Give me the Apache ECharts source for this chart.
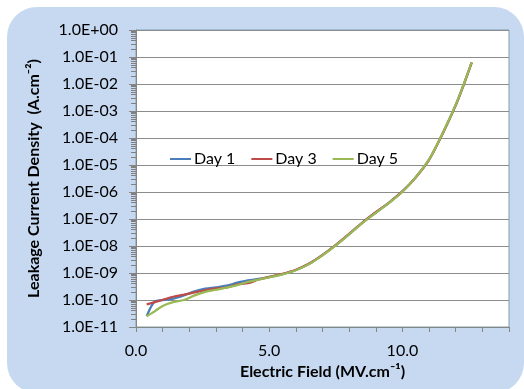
<!DOCTYPE html>
<html>
<head>
<meta charset="utf-8">
<script src="https://cdn.jsdelivr.net/npm/echarts@6/dist/echarts.min.js"></script>
<style>
  html, body { margin: 0; padding: 0; background: #fff; }
  #wrap { position: relative; width: 524px; height: 389px; overflow: hidden; }
  #panel { position: absolute; left: 7px; top: 7px; width: 517px; height: 386px;
           background: #c6d9f1; border-radius: 30px; }
  #chart { position: absolute; left: 0; top: 0; width: 524px; height: 389px; }
</style>
</head>
<body>
<div id="wrap">
  <div id="panel"></div>
  <div id="chart"></div>
</div>
<script>
// electric field (MV/cm)
const field = [0.4, 0.7, 1.0, 1.4, 1.8, 2.2, 2.6, 3.0, 3.4, 3.8, 4.2, 4.6, 5.0, 5.5, 6.0,
  6.5, 7.0, 7.5, 8.0, 8.5, 9.0, 9.5, 10.0, 10.5, 11.0, 11.5, 12.0, 12.3, 12.6];

// leakage current density (A/cm2)
const day1 = [2.51e-11, 8.7e-11, 9.8e-11, 1.12e-10, 1.48e-10, 2.09e-10, 2.63e-10, 2.95e-10, 3.39e-10,
  4.37e-10, 5.37e-10, 6.03e-10, 7.08e-10, 9.12e-10, 1.29e-9, 2.19e-9, 4.57e-9, 1.07e-8, 2.75e-8,
  7.41e-8, 1.74e-7, 4.07e-7, 1.05e-6, 3.55e-6, 1.58e-5, 1.41e-4, 1.66e-3, 9.55e-3, 6.31e-2];
const day3 = [6.92e-11, 8.32e-11, 1.02e-10, 1.32e-10, 1.58e-10, 1.91e-10, 2.29e-10, 2.69e-10, 2.88e-10,
  3.80e-10, 4.17e-10, 5.75e-10, 7.24e-10, 9.33e-10, 1.32e-9, 2.24e-9, 4.68e-9, 1.10e-8, 2.82e-8,
  7.41e-8, 1.78e-7, 4.07e-7, 1.05e-6, 3.47e-6, 1.55e-5, 1.38e-4, 1.62e-3, 9.33e-3, 6.17e-2];
const day5 = [2.51e-11, 3.80e-11, 6.03e-11, 8.32e-11, 1.0e-10, 1.48e-10, 2.0e-10, 2.40e-10, 2.88e-10,
  3.55e-10, 4.68e-10, 5.75e-10, 6.92e-10, 8.91e-10, 1.26e-9, 2.14e-9, 4.47e-9, 1.05e-8, 2.69e-8,
  7.24e-8, 1.70e-7, 3.98e-7, 1.02e-6, 3.55e-6, 1.62e-5, 1.45e-4, 1.70e-3, 9.77e-3, 6.46e-2];

const seriesNames = ["Day 1", "Day 3", "Day 5"];
const seriesData = [day1, day3, day5];
const colors = ["#4a7ebb", "#be4b48", "#98b954"];

const font = "Lato";

function expLabel(v) {
  let e = Math.round(Math.log10(v));
  let s = String(Math.abs(e)).padStart(2, "0");
  return "1.0E" + (e < 0 ? "-" : "+") + s;
}

let chart = echarts.init(document.getElementById("chart"));
chart.setOption({
  animation: false,
  color: colors,
  textStyle: { fontFamily: font },
  grid: {
    left: 136,
    top: 30,
    right: 15,
    bottom: 62,
    show: true,
    backgroundColor: "#fff",
    borderColor: "#7f9fb0",
    borderWidth: 1
  },
  legend: {
    left: 165,
    top: 146,
    icon: "rect",
    itemWidth: 21,
    itemHeight: 2,
    itemGap: 16,
    textStyle: { fontFamily: font, fontSize: 16, color: "#000", padding: [0, 0, 0, -2] },
    data: seriesNames
  },
  xAxis: {
    type: "value",
    min: 0,
    max: 14,
    interval: 1,
    name: "Electric Field (MV.cm\u207B\u00B9)",
    nameLocation: "middle",
    nameGap: 33,
    nameTextStyle: { fontFamily: font, fontSize: 16, fontWeight: "bold", color: "#000" },
    axisLine: { lineStyle: { color: "#868686" } },
    axisTick: { length: 5, lineStyle: { color: "#868686" } },
    splitLine: { show: false },
    axisLabel: {
      fontSize: 16,
      color: "#000",
      margin: 16,
      formatter: function(v) {
        return v % 5 === 0 ? v.toFixed(1) : "";
      }
    }
  },
  yAxis: {
    type: "log",
    logBase: 10,
    min: 1e-11,
    max: 1,
    interval: 1,
    name: "Leakage Current Density  (A.cm\u207B\u00B2)",
    nameLocation: "middle",
    nameGap: 94,
    nameTextStyle: { fontFamily: font, fontSize: 16, fontWeight: "bold", color: "#000" },
    axisLine: { show: true, lineStyle: { color: "#868686" } },
    axisTick: { show: true, length: 7, lineStyle: { color: "#868686" } },
    minorTick: { show: true, splitNumber: 9, length: 5, lineStyle: { color: "#808080" } },
    splitLine: { show: true, lineStyle: { color: "#8c8c8c" } },
    axisLabel: {
      fontSize: 16,
      color: "#000",
      margin: 18,
      formatter: expLabel
    }
  },
  series: seriesNames.map((name, i) => ({
    name: name,
    type: "line",
    symbol: "none",
    smooth: 0.3,
    lineStyle: { width: 2.25 },
    data: field.map((x, j) => [x, seriesData[i][j]])
  }))
});
</script>
</body>
</html>
